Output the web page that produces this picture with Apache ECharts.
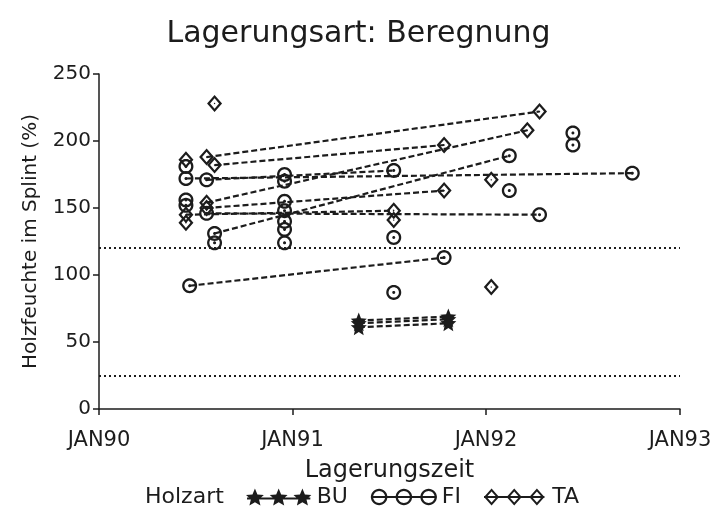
<!DOCTYPE html>
<html>
<head>
<meta charset="utf-8">
<script src="https://cdn.jsdelivr.net/npm/echarts@6/dist/echarts.min.js"></script>
<style>
  html, body { margin: 0; padding: 0; background: #fff; }
  #chart { width: 717px; height: 521px; }
</style>
</head>
<body>
<div id="chart"></div>
<script>
// connected pairs: [startDate, startValue, endDate, endValue]
const buLines = [
  ['1991-05-06', 66, '1991-10-22', 69],
  ['1991-05-06', 64, '1991-10-22', 67],
  ['1991-05-06', 61, '1991-10-22', 64]
]
const fiLines = [
  ['1990-06-14', 172, '1992-10-03', 176],
  ['1990-07-23', 171, '1991-07-11', 178],
  ['1990-08-07', 131, '1992-02-14', 189],
  ['1990-07-23', 146, '1992-04-11', 145],
  ['1990-06-21', 92, '1991-10-14', 113]
]
const taLines = [
  ['1990-07-23', 188, '1992-04-11', 222],
  ['1990-08-07', 182, '1991-10-14', 197],
  ['1990-07-23', 154, '1992-03-19', 208],
  ['1990-07-23', 150, '1991-10-14', 163],
  ['1990-06-14', 145, '1991-07-11', 148]
]
// unconnected points: [date, value]
const fiSingles = [
  ['1990-06-14', 181], ['1990-06-14', 156], ['1990-06-14', 152],
  ['1990-08-07', 124],
  ['1990-12-17', 175], ['1990-12-17', 170], ['1990-12-17', 155], ['1990-12-17', 148],
  ['1990-12-17', 140], ['1990-12-17', 134], ['1990-12-17', 124],
  ['1991-07-11', 128], ['1991-07-11', 87],
  ['1992-02-14', 163], ['1992-06-13', 206], ['1992-06-13', 197]
]
const taSingles = [
  ['1990-08-07', 228], ['1990-06-14', 186], ['1990-06-14', 139],
  ['1991-07-11', 141], ['1992-01-11', 171], ['1992-01-11', 91]
]
const refLines = [120, 25]
const yearLabels = { 1990: 'JAN90', 1991: 'JAN91', 1992: 'JAN92', 1993: 'JAN93' }

const ink = '#1c1c1c'
const font = 'DejaVu Sans'

// --- symbol paths ---
const poly = pts => 'M' + pts.map(p => p[0].toFixed(2) + ',' + p[1].toFixed(2)).join('L') + 'Z'
const circlePts = (cx, cy, r) => {
  const pts = []
  for (let i = 0; i < 32; i++) {
    const a = i / 32 * Math.PI * 2
    pts.push([cx + r * Math.cos(a), cy + r * Math.sin(a)])
  }
  return pts
}
const starPts = (cx, cy, r) => {
  const pts = []
  for (let i = 0; i < 10; i++) {
    const a = -Math.PI / 2 + i * Math.PI / 5
    const rr = i % 2 ? r * 0.45 : r
    pts.push([cx + rr * Math.cos(a), cy + rr * Math.sin(a)])
  }
  return pts
}
const diamondPts = (cx, cy, w, h) => [[cx, cy - h], [cx + w, cy], [cx, cy + h], [cx - w, cy]]
const ring = (outer, inner) => poly(outer) + poly(inner.slice().reverse())
const bar = (x1, x2, y, t) => poly([[x1, y - t], [x2, y - t], [x2, y + t], [x1, y + t]])

const fiSymbol = 'path://' + ring(circlePts(10, 10, 10), circlePts(10, 10, 6.9)) + poly(circlePts(10, 10, 2))
const taSymbol = 'path://' + ring(diamondPts(10, 11, 10, 11), diamondPts(10, 11, 6.0, 6.8)) + poly(circlePts(10, 11, 0.9))
const buSymbol = 'path://' + poly(starPts(10, 10, 10))

// legend icons: three symbols joined by a line, box 66 x 18
const cx3 = [9, 33, 57]
const buIcon = 'path://' + cx3.map(c => poly(starPts(c, 9.5, 9.5))).join('') + bar(1, 65, 10, 1)
const fiIcon = 'path://' + cx3.map(c => ring(circlePts(c, 9, 8), circlePts(c, 9, 5.8))).join('') + bar(1, 65, 9, 1)
const taIcon = 'path://' + cx3.map(c => ring(diamondPts(c, 9, 8, 9), diamondPts(c, 9, 5.2, 5.8))).join('') + bar(1, 65, 9, 1)

const styles = {
  BU: { symbol: buSymbol, size: 16 },
  FI: { symbol: fiSymbol, size: 15 },
  TA: { symbol: taSymbol, size: [15, 17] }
}

const series = []
const addLines = (name, lines) => {
  lines.forEach(l => {
    series.push({
      name, type: 'line',
      data: [[l[0], l[1]], [l[2], l[3]]],
      symbol: styles[name].symbol, symbolSize: styles[name].size,
      showSymbol: true, showAllSymbol: true,
      itemStyle: { color: ink, opacity: 1 },
      lineStyle: { color: ink, width: 2.2, type: [6, 3] },
      z: 2
    })
  })
}
const addSingles = (name, pts) => {
  series.push({
    name, type: 'scatter', data: pts,
    symbol: styles[name].symbol, symbolSize: styles[name].size,
    itemStyle: { color: ink, opacity: 1 }, z: 3
  })
}
addLines('BU', buLines)
addLines('FI', fiLines)
addLines('TA', taLines)
addSingles('FI', fiSingles)
addSingles('TA', taSingles)
series.push({
  name: 'ref', type: 'line', data: [],
  markLine: {
    silent: true, symbol: ['none', 'none'], label: { show: false },
    lineStyle: { color: ink, width: 2, type: [2, 3] },
    data: refLines.map(v => ({ yAxis: v }))
  }
})

const chart = echarts.init(document.getElementById('chart'))
chart.setOption({
  animation: false,
  backgroundColor: '#fff',
  title: {
    text: 'Lagerungsart: Beregnung',
    left: 'center', top: 14,
    textStyle: { fontFamily: font, fontSize: 30, fontWeight: 'normal', color: ink }
  },
  graphic: [{
    type: 'text', left: 145, top: 486,
    style: { text: 'Holzart', fontFamily: font, fontSize: 22, fill: ink }
  }],
  legend: {
    left: 241, top: 481,
    itemWidth: 66, itemHeight: 17, itemGap: 23,
    textStyle: { fontFamily: font, fontSize: 22, color: ink },
    data: [
      { name: 'BU', icon: buIcon },
      { name: 'FI', icon: fiIcon },
      { name: 'TA', icon: taIcon }
    ]
  },
  grid: { left: 99, right: 37, top: 74, bottom: 112 },
  xAxis: {
    type: 'time',
    min: '1990-01-01', max: '1993-01-01',
    splitNumber: 3,
    minInterval: 365 * 86400000,
    name: 'Lagerungszeit', nameLocation: 'middle', nameGap: 50,
    nameTextStyle: { fontFamily: font, fontSize: 24, color: ink },
    axisLine: { lineStyle: { color: ink, width: 1.5 } },
    axisTick: { length: 6, lineStyle: { color: ink, width: 1.5 } },
    axisLabel: {
      fontFamily: font, fontSize: 21, color: ink, margin: 21,
      showMinLabel: true, showMaxLabel: true,
      formatter: v => yearLabels[new Date(v).getFullYear()] || ''
    },
    splitLine: { show: false }
  },
  yAxis: {
    type: 'value', min: 0, max: 250, interval: 50,
    name: 'Holzfeuchte im Splint (%)', nameLocation: 'middle', nameGap: 58,
    nameTextStyle: { fontFamily: font, fontSize: 20, color: ink },
    axisLine: { show: true, lineStyle: { color: ink, width: 1.5 } },
    axisTick: { show: true, length: 6, lineStyle: { color: ink, width: 1.5 } },
    axisLabel: { fontFamily: font, fontSize: 20, color: ink, margin: 8 },
    splitLine: { show: false }
  },
  series
})
</script>
</body>
</html>
